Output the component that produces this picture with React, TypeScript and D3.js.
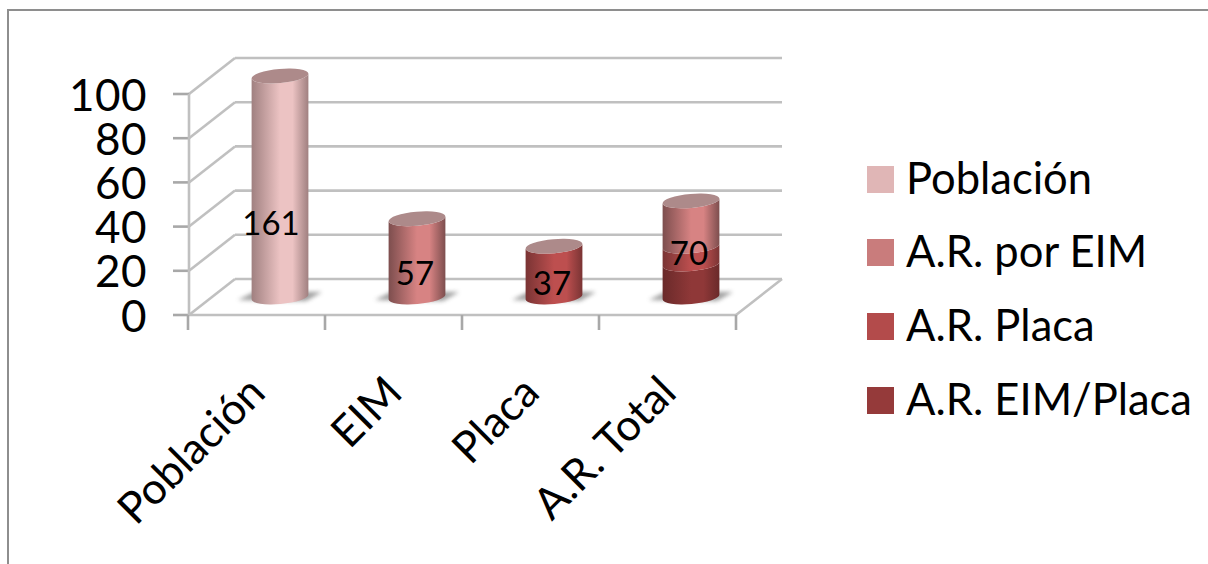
import React from "react";
import * as d3 from "d3";

// Patient counts per category; the axis shows them as a share of the population.
const categories = ["Población", "EIM", "Placa", "A.R. Total"];
const seriesNames = ["Población", "A.R. por EIM", "A.R. Placa", "A.R. EIM/Placa"];
const poblacion = [161, 0, 0, 0];
const arPorEim = [0, 57, 0, 33];
const arPlaca = [0, 0, 37, 13];
const arEimPlaca = [0, 0, 0, 24];
const totalLabels = [161, 57, 37, 70];
const populationTotal = 161;
const yTicks = [0, 20, 40, 60, 80, 100];

const legendColors = ["#e0b6b6", "#c97c7c", "#b34b4b", "#953a3a"];
const edgeColors = ["#a08080", "#7d4e4e", "#7a3434", "#6a2a2a"];
const midColors = ["#ecc3c3", "#d78383", "#bd4f4f", "#8f3838"];

const W = 1208;
const H = 564;
const FONT = "Lato, Carlito, 'Open Sans', sans-serif";
const GRID = "#c0c0c0";

const frontLeft = 189;
const frontRight = 736;
const depthX = 46;
const depthY = -36;
const rx = 28.5;
const ry = 7;
const tilt = 5;

const x = d3.scaleBand<string>().domain(categories).range([frontLeft - 1, frontRight]);
const yFront = d3.scaleLinear().domain([0, 100]).range([315, 94]);
const yMid = (pct: number) => yFront(pct) + depthY / 2;
const share = (n: number) => (n / populationTotal) * 100;

const rows = categories.map((c, i) => ({
  category: c,
  [seriesNames[0]]: poblacion[i],
  [seriesNames[1]]: arPorEim[i],
  [seriesNames[2]]: arPlaca[i],
  [seriesNames[3]]: arEimPlaca[i],
}));
// Stacked from the bottom: overlap first, then plaque only, EIM only, population.
const stackOrder = [seriesNames[3], seriesNames[2], seriesNames[1], seriesNames[0]];
const stacked = d3.stack<any>().keys(stackOrder)(rows);

const rad = (tilt * Math.PI) / 180;
const ox = rx * Math.cos(rad);
const oy = rx * Math.sin(rad);

// Side of a cylinder segment: flat across the top rim, bulging along the bottom rim.
function sidePath(cx: number, y0: number, y1: number) {
  return [
    `M${cx - ox},${y1 + oy}`,
    `A${rx},${ry} ${-tilt} 0 0 ${cx + ox},${y1 - oy}`,
    `L${cx + ox},${y0 - oy}`,
    `A${rx},${ry} ${-tilt} 0 1 ${cx - ox},${y0 + oy}`,
    "Z",
  ].join(" ");
}

// Soft floor shadow on either side of the cylinder base.
function shadowPath(cx: number, y: number) {
  return `M${cx - 42},${y + 3} L${cx - 26},${y - 5} L${cx + 42},${y - 5} L${cx + 26},${y + 4} Z`;
}

const labelShift = [-9, -2, -2, -2];
const labelCenterY = [222, 272, 282, 252];

export default function App() {
  const backX0 = frontLeft + depthX;
  const backX1 = frontRight + depthX;
  const centers = categories.map((c) => x(c)! + x.bandwidth() / 2 + depthX / 2 + 0.5);
  const tickXs = [...categories.map((c) => x(c)!), frontRight];

  return (
    <svg
      width={W}
      height={H}
      viewBox={`0 0 ${W} ${H}`}
      style={{ position: "absolute", left: 0, top: 0, background: "#fff" }}
      fontFamily={FONT}
    >
      <defs>
        {seriesNames.map((s, i) => (
          <linearGradient key={s} id={`cyl${i}`} x1="0" x2="1" y1="0" y2="0">
            <stop offset="0" stopColor={edgeColors[i]} />
            <stop offset="0.5" stopColor={midColors[i]} />
            <stop offset="0.72" stopColor={midColors[i]} />
            <stop offset="1" stopColor={edgeColors[i]} />
          </linearGradient>
        ))}
        <filter id="floorShadow" x="-20%" y="-80%" width="140%" height="260%">
          <feGaussianBlur stdDeviation="2" />
        </filter>
      </defs>

      {/* outer frame, cut off by the right and bottom edges */}
      <path d={`M8,${H} L8,10 L${W},10`} fill="none" stroke="#8e8e8e" strokeWidth={2} />

      {/* back wall, side wall and floor */}
      <g fill="none" stroke={GRID} strokeWidth={2.6}>
        {yTicks.map((t) => (
          <g key={t}>
            <line x1={backX0} x2={backX1} y1={yFront(t) + depthY} y2={yFront(t) + depthY} />
            <line x1={frontLeft} x2={backX0} y1={yFront(t)} y2={yFront(t) + depthY} />
            <line x1={173} x2={frontLeft} y1={yFront(t)} y2={yFront(t)} stroke="#a8a8a8" />
          </g>
        ))}
        <line x1={frontLeft} x2={frontLeft} y1={yFront(100)} y2={yFront(0)} />
        <line x1={frontLeft} x2={frontRight} y1={yFront(0)} y2={yFront(0)} />
        <line x1={frontRight} x2={backX1} y1={yFront(0)} y2={yFront(0) + depthY} />
        {tickXs.map((tx, i) => (
          <line key={i} x1={tx} x2={tx} y1={yFront(0)} y2={yFront(0) + 15} stroke="#a8a8a8" />
        ))}
      </g>

      {/* y axis labels */}
      <g fontSize={44} fill="#000" textAnchor="end" letterSpacing={0.5}>
        {yTicks.map((t) => (
          <text key={t} x={147} y={yFront(t) + 16.5}>
            {t}
          </text>
        ))}
      </g>

      {/* category labels */}
      <g fontSize={43.5} fill="#000" textAnchor="end">
        {categories.map((c, i) => {
          const ax = x(c)! + x.bandwidth() / 2 + 11;
          return (
            <text key={c} transform={`translate(${ax},${395}) rotate(-45)`}>
              {c}
            </text>
          );
        })}
      </g>

      {/* floor shadows */}
      <g filter="url(#floorShadow)" fill="#7f7f7f" opacity={0.75}>
        {centers.map((cx, i) => (
          <path key={i} d={shadowPath(cx, yMid(0))} />
        ))}
      </g>

      {/* cylinders */}
      {stacked.map((layer) => {
        const s = seriesNames.indexOf(layer.key);
        return (
          <g key={layer.key}>
            {layer.map((d, i) =>
              d[1] > d[0] ? (
                <path
                  key={i}
                  d={sidePath(centers[i], yMid(share(d[1])), yMid(share(d[0])))}
                  fill={`url(#cyl${s})`}
                />
              ) : null
            )}
          </g>
        );
      })}
      {totalLabels.map((v, i) => (
        <ellipse
          key={i}
          cx={centers[i]}
          cy={yMid(share(v))}
          rx={rx}
          ry={ry}
          fill="#ad8a8a"
          transform={`rotate(${-tilt} ${centers[i]} ${yMid(share(v))})`}
        />
      ))}

      {/* value labels */}
      <g fontSize={33} fill="#000" textAnchor="middle" dominantBaseline="central">
        {totalLabels.map((v, i) => (
          <text key={i} x={centers[i] + labelShift[i]} y={labelCenterY[i]}>
            {v}
          </text>
        ))}
      </g>

      {/* legend */}
      <g>
        {seriesNames.map((s, i) => {
          const cy = [179.5, 252.5, 326.5, 400.5][i];
          return (
            <g key={s}>
              <rect x={867} y={cy - 13.5} width={27} height={27} fill={legendColors[i]} />
              <text x={906} y={cy + 14} fontSize={43.5} fill="#000">
                {s}
              </text>
            </g>
          );
        })}
      </g>
    </svg>
  );
}
